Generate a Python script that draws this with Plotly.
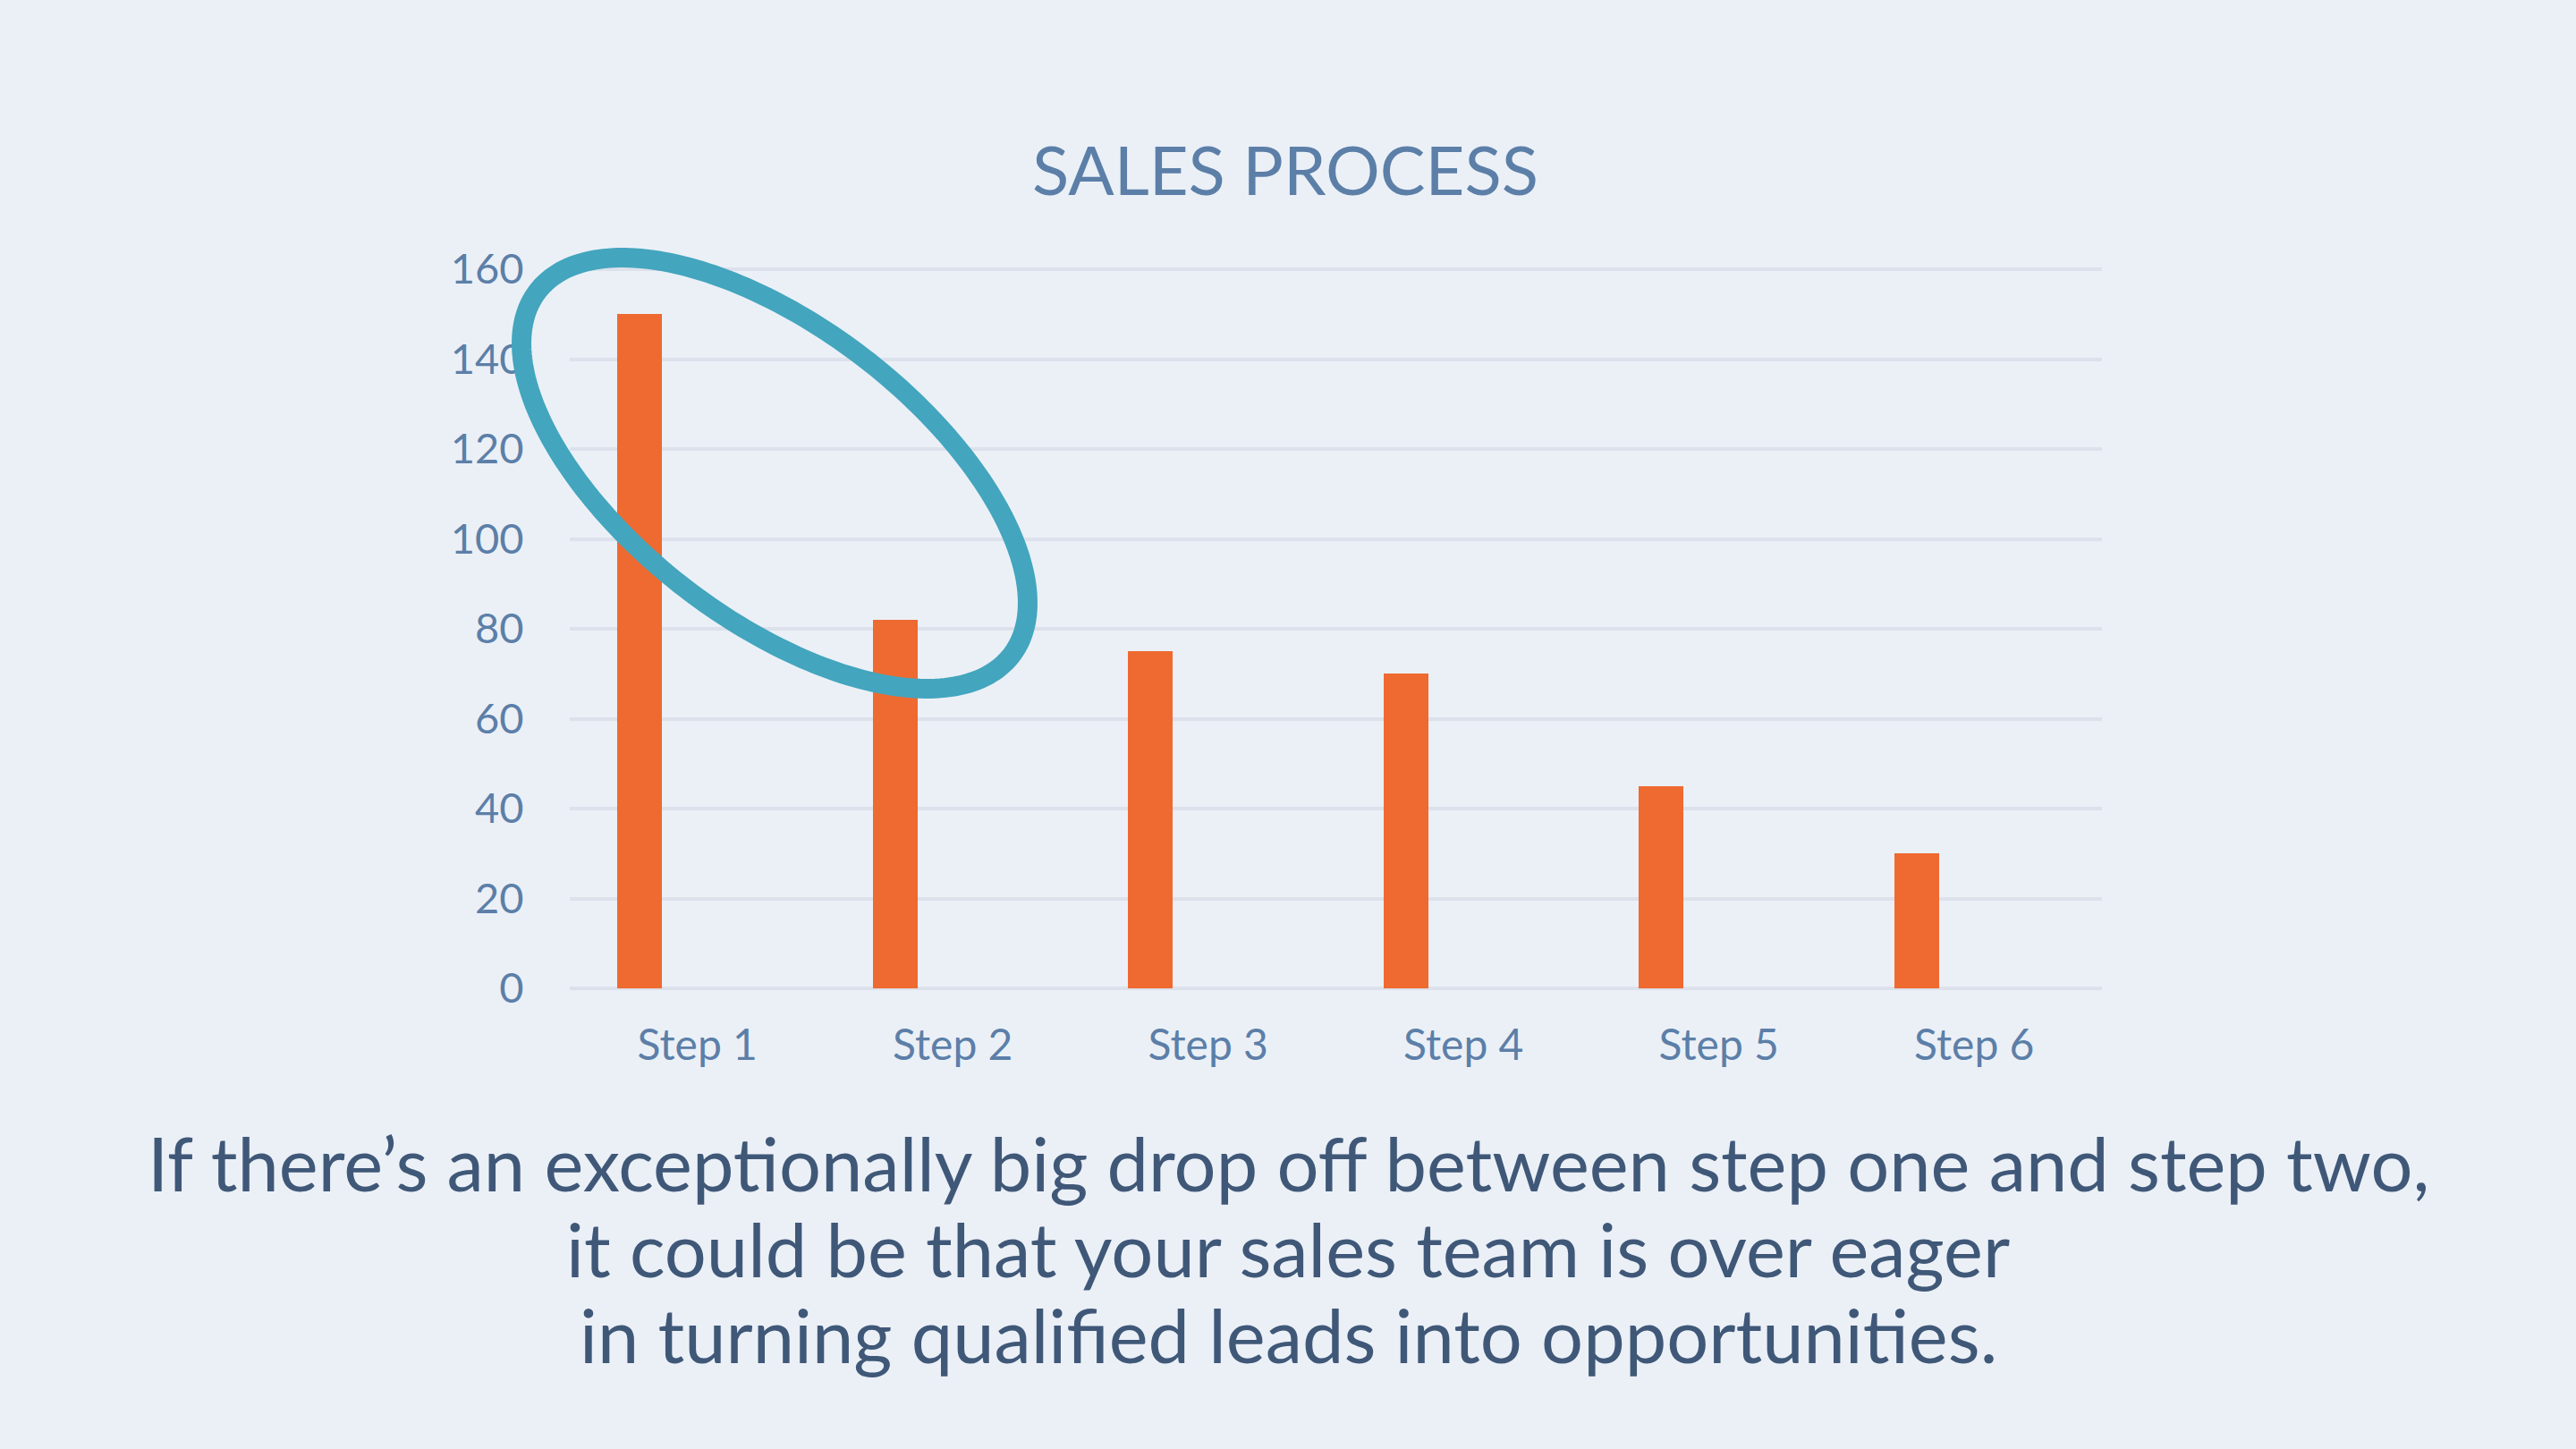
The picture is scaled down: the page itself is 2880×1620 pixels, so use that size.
import numpy as np
import plotly.graph_objects as go

# Chart data
steps = ["Step 1", "Step 2", "Step 3", "Step 4", "Step 5", "Step 6"]
leads = [150, 82, 75, 70, 45, 30]
y_ticks = [0, 20, 40, 60, 80, 100, 120, 140, 160]

title_text = "SALES PROCESS"
caption_lines = [
    "If there’s an exceptionally big drop off between step one and step two,",
    "it could be that your sales team is over eager",
    "in turning qualified leads into opportunities.",
]

# Canvas and plot-area box (pixels); y = 160 sits at pixel 301, y = 0 at 1105
W, H = 2880, 1620
PL, PR, PT, PB = 637, 2350, 297, 1105
Y_TOP_PX = 301
PX_PER_UNIT = (PB - Y_TOP_PX) / 160.0
Y_MAX = 160 + (Y_TOP_PX - PT) / PX_PER_UNIT

BG = "#EBF0F7"
GRID = "#DCE1EB"
ORANGE = "#EF6A30"
TEAL = "#43A5BE"
AXIS_TXT = "#5C7FA8"
CAPTION_TXT = "#405878"
FONT = "Lato, 'Open Sans', sans-serif"


def paper_x(px):
    return (px - PL) / (PR - PL)


def paper_y(py):
    return (PB - py) / (PB - PT)


fig = go.Figure(
    go.Bar(
        x=steps,
        y=leads,
        marker=dict(color=ORANGE, line=dict(width=0)),
        width=0.175,
        offset=-0.314,
        hoverinfo="x+y",
    )
)

# Highlight ring around the step 1 -> step 2 drop (rotated ellipse, pixel geometry)
cx, cy, ra, rb, th = 866.0, 529.0, 334.0, 163.0, np.radians(37.5)
t = np.linspace(0, 2 * np.pi, 241)
ex = cx + ra * np.cos(t) * np.cos(th) - rb * np.sin(t) * np.sin(th)
ey = cy + ra * np.cos(t) * np.sin(th) + rb * np.sin(t) * np.cos(th)
ring_path = "M " + " L ".join(
    f"{paper_x(x):.5f},{paper_y(y):.5f}" for x, y in zip(ex, ey)
) + " Z"

fig.add_shape(
    type="path",
    xref="paper",
    yref="paper",
    path=ring_path,
    line=dict(color=TEAL, width=22),
    fillcolor="rgba(0,0,0,0)",
    layer="above",
)

# Title
fig.add_annotation(
    text=title_text,
    xref="paper",
    yref="paper",
    x=paper_x(1437),
    y=paper_y(188),
    xanchor="center",
    yanchor="middle",
    showarrow=False,
    font=dict(family=FONT, size=76, color=AXIS_TXT),
)

# Caption lines
for i, line in enumerate(caption_lines):
    fig.add_annotation(
        text=line,
        xref="paper",
        yref="paper",
        x=paper_x(1440),
        y=paper_y(1300 + 96 * i),
        xanchor="center",
        yanchor="middle",
        showarrow=False,
        font=dict(family=FONT, size=83, color=CAPTION_TXT),
    )

fig.update_layout(
    width=W,
    height=H,
    margin=dict(l=PL, r=W - PR, t=PT, b=H - PB, pad=0),
    paper_bgcolor=BG,
    plot_bgcolor=BG,
    showlegend=False,
    bargap=0,
    font=dict(family=FONT, color=AXIS_TXT),
)

fig.update_xaxes(
    type="category",
    range=[-0.5, 5.5],
    showgrid=False,
    showline=False,
    zeroline=False,
    ticks="outside",
    ticklen=21,
    tickcolor="rgba(0,0,0,0)",
    tickfont=dict(family=FONT, size=48, color=AXIS_TXT),
)

fig.update_yaxes(
    range=[0, Y_MAX],
    tickvals=y_ticks,
    showgrid=True,
    gridcolor=GRID,
    gridwidth=4,
    zeroline=True,
    zerolinecolor=GRID,
    zerolinewidth=4,
    showline=False,
    ticks="outside",
    ticklen=41,
    tickcolor="rgba(0,0,0,0)",
    tickfont=dict(family=FONT, size=47, color=AXIS_TXT),
)

fig.write_html("out.html")
